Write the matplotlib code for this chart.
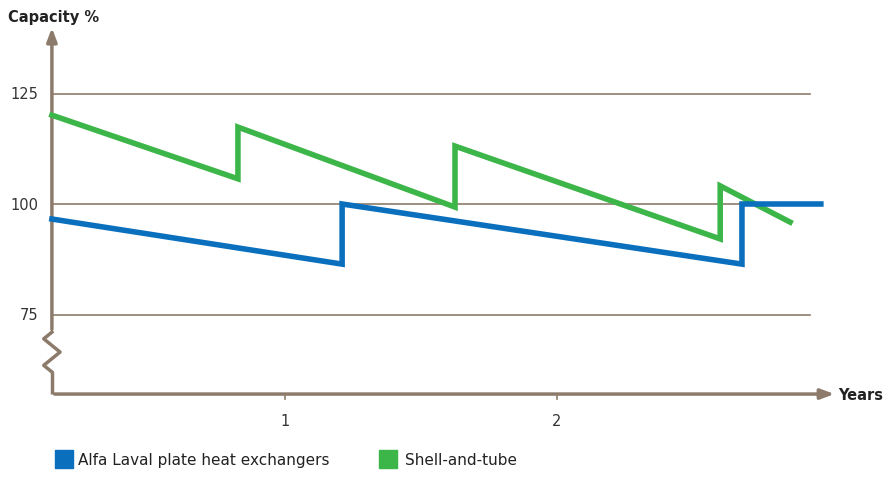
import matplotlib
matplotlib.use("Agg")
import matplotlib.pyplot as plt

blue_x = [0.143, 1.21, 1.21, 2.68, 2.68, 2.97]
blue_y = [96.6, 86.4, 100.0, 86.4, 100.0, 100.0]
green_x = [0.143, 0.827, 0.827, 1.625, 1.625, 2.60, 2.60, 2.857]
green_y = [120.1, 105.7, 117.4, 99.3, 113.1, 92.1, 104.1, 95.9]
yticks = [75, 100, 125]
xticks = [1, 2]
series_names = ["Alfa Laval plate heat exchangers", "Shell-and-tube"]
colors = ["#0a6fbd", "#3db649"]
axc = "#8c7b6b"

fig = plt.figure(figsize=(8.89, 4.89), dpi=100)
ax = fig.add_axes([0, 0, 1, 1])
ax.set_xlim(-13/272, 876/272)
ax.set_ylim(100 - 284/4.42, 100 + 205/4.42)
ax.axis("off")
x0 = 0.143
for t in yticks:
    ax.plot([x0, 2.93], [t, t], color=axc, lw=1.2, zorder=1)
    ax.text(x0 - 0.05, t, str(t), ha="right", va="center", fontsize=10.5, color="#333")
for t in xticks:
    ax.plot([t, t], [57, 55.8], color=axc, lw=1.2)
    ax.text(t, 51, str(t), ha="center", va="center", fontsize=10.5, color="#333")
ax.annotate("", xy=(3.03, 57), xytext=(x0, 57),
            arrowprops=dict(arrowstyle="-|>,head_width=0.3,head_length=0.8", color=axc, lw=2.5))
ax.plot([x0, x0], [57, 62], color=axc, lw=2.5, solid_capstyle="butt")
zz = [(x0, 62), (x0 - 0.03, 63.5), (x0 + 0.03, 66.5), (x0 - 0.03, 69.5), (x0, 71)]
ax.plot([p[0] for p in zz], [p[1] for p in zz], color=axc, lw=2.5)
ax.annotate("", xy=(x0, 140.5), xytext=(x0, 71),
            arrowprops=dict(arrowstyle="-|>,head_width=0.3,head_length=0.8", color=axc, lw=2.5))
ax.text(3.035, 57, "Years", ha="left", va="center", fontsize=10.5, fontweight="bold", color="#222")
ax.text(-0.02, 142.5, "Capacity %", ha="left", va="center", fontsize=10.5, fontweight="bold", color="#222")
ax.plot(green_x, green_y, color=colors[1], lw=4, zorder=3, solid_joinstyle="miter")
ax.plot(blue_x, blue_y, color=colors[0], lw=4, zorder=4, solid_joinstyle="miter")
for name, c, sx, tx in zip(series_names, colors, [0.187, 1.379], [0.239, 1.441]):
    ax.scatter([sx], [42.3], marker="s", s=170, color=c)
    ax.text(tx, 42.3, name, ha="left", va="center", fontsize=11, color="#222")
fig.savefig("out.png", dpi=100)
